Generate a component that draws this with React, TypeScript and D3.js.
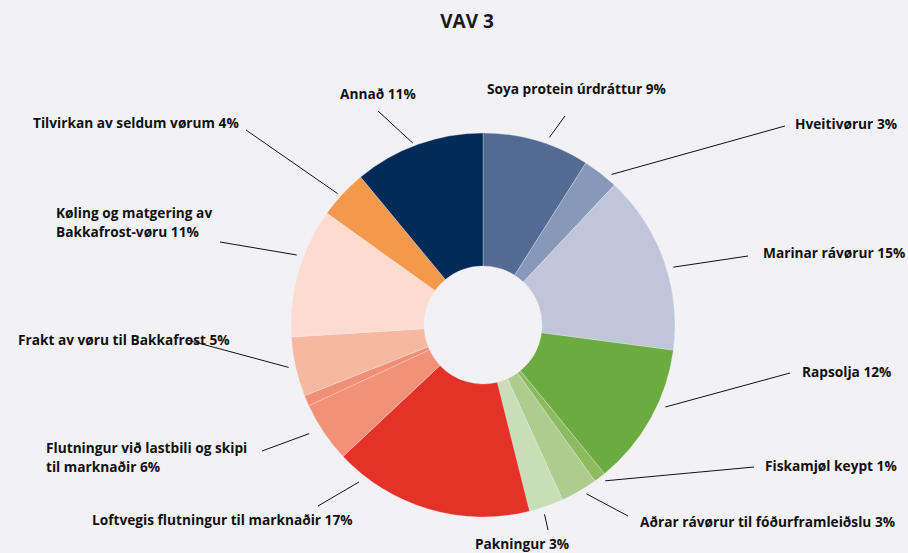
import React from 'react';
import * as d3 from 'd3';

// slices, clockwise from 12 o'clock
const names = [
  'Soya protein úrdráttur', 'Hveitivørur', 'Marinar rávørur', 'Rapsolja', 'Fiskamjøl keypt',
  'Aðrar rávørur til fóðurframleiðslu', 'Pakningur', 'Loftvegis flutningur til marknaðir',
  'Flutningur við lastbili og skipi til marknaðir', 'Flutningur (partur)',
  'Frakt av vøru til Bakkafrost', 'Køling og matgering av Bakkafrost-vøru',
  'Tilvirkan av seldum vørum', 'Annað',
];
const shares = [9, 3, 15.1, 12, 1, 3.1, 2.9, 16.9, 5.1, 0.9, 5, 10.9, 4.1, 11];
const colors = [
  '#536a93', '#8898b8', '#c0c6da', '#6cab3f', '#8cbb60', '#adcc8e', '#c8deb4',
  '#e53228', '#f29177', '#f08e76', '#f6b8a0', '#fddccf', '#f4994c', '#002b59',
];

// label text per slice (null = no label)
const labelLines: (string[] | null)[] = [
  ['Soya protein úrdráttur 9%'],
  ['Hveitivørur 3%'],
  ['Marinar rávørur 15%'],
  ['Rapsolja 12%'],
  ['Fiskamjøl keypt 1%'],
  ['Aðrar rávørur til fóðurframleiðslu 3%'],
  ['Pakningur 3%'],
  ['Loftvegis flutningur til marknaðir 17%'],
  ['Flutningur við lastbili og skipi', 'til marknaðir 6%'],
  null,
  ['Frakt av vøru til Bakkafrost 5%'],
  ['Køling og matgering av', 'Bakkafrost-vøru 11%'],
  ['Tilvirkan av seldum vørum 4%'],
  ['Annað 11%'],
];

// label layout: leader start angle (deg) + radius, leader end, text left/baseline
const labelLayout = [
  { a: 19.5, r: 199, ex: 565, ey: 116, tx: 487, ty: 94 },
  { a: 40.5, r: 198, ex: 785, ey: 126, tx: 795, ty: 129 },
  { a: 73.1, r: 199, ex: 748, ey: 256, tx: 763, ty: 258 },
  { a: 114.2, r: 200, ex: 790, ey: 373, tx: 802, ty: 377 },
  { a: 141.9, r: 198, ex: 754, ey: 467, tx: 765, ty: 471 },
  { a: 148.5, r: 198, ex: 628, ey: 516, tx: 640, ty: 527 },
  { a: 162, r: 199, ex: 548, ey: 530, tx: 475, ty: 549 },
  { a: 218.3, r: 200, ex: 318, ey: 506, tx: 92, ty: 525 },
  { a: 238, r: 205, ex: 262, ey: 451, tx: 46, ty: 453 },
  null,
  { a: 257.7, r: 199, ex: 187, ey: 340, tx: 18, ty: 345 },
  { a: 290.6, r: 199, ex: 220, ey: 242, tx: 56, ty: 218 },
  { a: 312.1, r: 196, ex: 246, ey: 130, tx: 33, ty: 128 },
  { a: 338.9, r: 195, ex: 378, ey: 111, tx: 340, ty: 99 },
];

const W = 908;
const H = 553;
const cx = 483;
const cy = 325;
const R = 192;
const r0 = 59;
const font = '"Open Sans", Roboto, sans-serif';

export default function App() {
  const data = names.map((n, i) => ({ name: n, value: shares[i], color: colors[i] }));
  const pie = d3.pie<any>().value((d) => d.value).sort(null);
  const arc = d3.arc<any>().innerRadius(r0).outerRadius(R);
  const arcs = pie(data);

  const polar = (deg: number, rad: number) => {
    const t = (deg * Math.PI) / 180;
    return [cx + rad * Math.sin(t), cy - rad * Math.cos(t)];
  };

  return (
    <svg width={W} height={H} style={{ position: 'absolute', left: 0, top: 0 }}>
      <rect width={W} height={H} fill="#f2f2f6" />
      <text x={467} y={28} textAnchor="middle" fontFamily={font} fontWeight={700} fontSize={19} fill="#1a1a1a">
        VAV 3
      </text>
      <g transform={`translate(${cx},${cy})`}>
        {arcs.map((a, i) => (
          <path key={i} d={arc(a) || ''} fill={a.data.color} stroke="#f2f2f6" strokeWidth={0.3} />
        ))}
      </g>
      {labelLayout.map((l, i) => {
        if (!l) return null;
        const [sx, sy] = polar(l.a, l.r);
        return <line key={'l' + i} x1={sx} y1={sy} x2={l.ex} y2={l.ey} stroke="#111" strokeWidth={1} />;
      })}
      {labelLayout.map((l, i) => {
        const lines = labelLines[i];
        if (!l || !lines) return null;
        return (
          <text key={'t' + i} x={l.tx} y={l.ty} fontFamily={font} fontWeight={700} fontSize={13.7} fill="#111">
            {lines.map((s, j) => (
              <tspan key={j} x={l.tx} dy={j === 0 ? 0 : 18.8}>{s}</tspan>
            ))}
          </text>
        );
      })}
    </svg>
  );
}
